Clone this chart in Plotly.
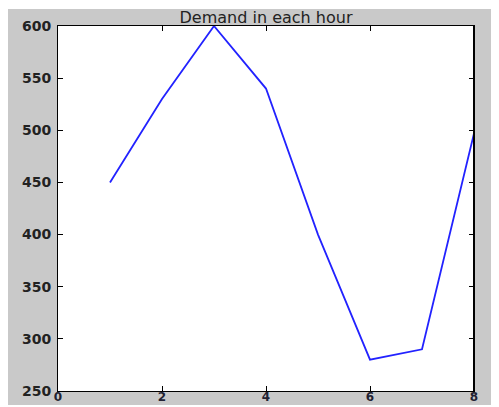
import plotly.graph_objects as go

hours = [1, 2, 3, 4, 5, 6, 7, 8]
demand = [450, 530, 600, 540, 400, 280, 290, 497]
x_ticks = [0, 2, 4, 6, 8]
y_ticks = [250, 300, 350, 400, 450, 500, 550, 600]
title_text = "Demand in each hour"

# page has an 8px body margin, so figure coords = page coords - 8
W, H = 491, 399
L, R, T, B = 50, 25, 18, 16
pw, ph = W - L - R, H - T - B

def px_x(p):
    return (p - L) / pw

def px_y(p):
    return (H - B - p) / ph

fig = go.Figure()
fig.add_trace(go.Scatter(x=hours, y=demand, mode="lines",
                         line=dict(color="#2222ff", width=1.8),
                         hoverinfo="skip", showlegend=False))

fig.update_layout(
    width=W, height=H,
    margin=dict(l=L, r=R, t=T, b=B, pad=0, autoexpand=False),
    paper_bgcolor="#c9c9c9",
    plot_bgcolor="white",
    title=dict(text=title_text, x=258 / W, xanchor="center",
               y=1 - 9 / H, yanchor="middle", yref="container",
               font=dict(family="DejaVu Sans", size=16, color="#222222")),
    xaxis=dict(range=[0, 8], tickvals=x_ticks, ticks="inside", ticklen=5,
               tickcolor="black", showline=True, linecolor="black", linewidth=1,
               mirror="ticks", showgrid=False, zeroline=False, automargin=False,
               tickfont=dict(family="DejaVu Sans", size=12, color="#222233", weight="bold"),
               ticklabelstandoff=-5),
    yaxis=dict(range=[250, 600], tickvals=y_ticks, ticks="inside", ticklen=5,
               tickcolor="black", showline=True, linecolor="black", linewidth=1,
               mirror="ticks", showgrid=False, zeroline=False, automargin=False,
               tickfont=dict(family="DejaVu Sans", size=14, color="#222222", weight="bold"),
               ticklabelstandoff=3),
    shapes=[
        dict(type="rect", xref="paper", yref="paper", layer="below",
             x0=px_x(0), x1=px_x(W), y0=px_y(1), y1=px_y(0),
             fillcolor="white", line=dict(width=0)),
        dict(type="rect", xref="paper", yref="paper", layer="below",
             x0=px_x(0), x1=px_x(W), y0=px_y(H), y1=px_y(397),
             fillcolor="white", line=dict(width=0)),
        dict(type="line", xref="paper", yref="paper", layer="above",
             x0=1, x1=1, y0=0, y1=1, line=dict(color="black", width=2)),
    ],
)

fig.write_html("out.html")
